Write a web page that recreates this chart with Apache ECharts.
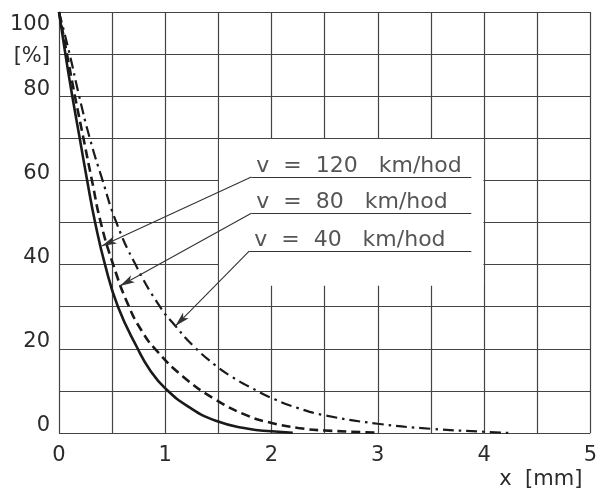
<!DOCTYPE html>
<html>
<head>
<meta charset="utf-8">
<script src="https://cdn.jsdelivr.net/npm/echarts@6/dist/echarts.min.js"></script>
<style>html,body{margin:0;padding:0;background:#fff}#c{width:600px;height:492px}</style>
</head>
<body>
<div id="c"></div>
<script>
// curve data [x mm, %]
var solidCurve = [[0,100],[0.06,90],[0.125,80],[0.195,70],[0.265,60],[0.34,50],[0.433,40],[0.555,30],[0.735,20.3],[0.86,14.8],[1.0,10.6],[1.22,6.2],[1.475,2.9],[1.78,1.0],[2.0,0.4],[2.2,0.05]];
var dashedCurve = [[0,100],[0.075,90],[0.15,80],[0.23,70],[0.31,60],[0.393,50],[0.51,40],[0.65,30.5],[0.78,24.2],[0.91,19.8],[1.163,13.5],[1.475,7.9],[1.785,4.0],[2.0,2.4],[2.25,1.2],[2.5,0.6],[3.0,0.1]];
var dashDotCurve = [[0,100],[0.1,90],[0.19,80],[0.29,70],[0.41,60],[0.54,50],[0.72,40],[0.95,30],[1.1,25.3],[1.26,20.8],[1.475,16.0],[1.63,13.3],[1.82,10.6],[2.03,8.0],[2.25,5.9],[2.5,4.2],[3.0,2.2],[3.5,1.0],[4.0,0.3],[4.27,0]];
// annotation labels
var labelTexts = ['v  =  120   km/hod', 'v  =  80   km/hod', 'v  =  40   km/hod'];
var labelStartX = [1.81, 1.81, 1.79];
var labelUnderlineY = [60.8, 52.2, 43.2];
var underlineEndX = 3.88;
var arrowTips = [[0.402, 44.4], [0.573, 34.9], [1.095, 25.4]];
// axis ticks
var xTicks = [0, 1, 2, 3, 4, 5];
var yTicks = [0, 20, 40, 60, 80];

var FONT = '"DejaVu Sans", sans-serif';
var INK = '#2b2b2b';
var GRID = '#444';

var chart = echarts.init(document.getElementById('c'), null, {renderer: 'canvas'});

var markLineData = [];
for (var i = 0; i < labelTexts.length; i++) {
  markLineData.push([
    {coord: [labelStartX[i], labelUnderlineY[i]], symbol: 'none'},
    {coord: [underlineEndX, labelUnderlineY[i]], symbol: 'none'}
  ]);
  markLineData.push([
    {coord: [labelStartX[i], labelUnderlineY[i]], symbol: 'none'},
    {coord: arrowTips[i], symbol: 'arrow', symbolSize: [6, 15]}
  ]);
}
var labelPoints = labelTexts.map(function (t, i) {
  return {value: [labelStartX[i], labelUnderlineY[i]], name: t};
});

var option = {
  animation: false,
  backgroundColor: '#fff',
  grid: {left: 59, right: 6, top: 12, bottom: 59, containLabel: false},
  xAxis: {
    type: 'value', min: 0, max: 5, interval: 0.5,
    name: 'x  [mm]', nameLocation: 'end', nameGap: -8,
    nameTextStyle: {fontFamily: FONT, fontSize: 21, color: INK, align: 'right', verticalAlign: 'top', padding: [36, 0, 0, 0]},
    axisLine: {show: false}, axisTick: {show: false},
    axisLabel: {
      margin: 12, fontFamily: FONT, fontSize: 21, color: INK,
      formatter: function (v) { return xTicks.indexOf(v) >= 0 ? String(v) : ''; }
    },
    splitLine: {show: true, lineStyle: {color: GRID, width: 1.2}}
  },
  yAxis: {
    type: 'value', min: 0, max: 100, interval: 10,
    name: '100\n[%]', nameLocation: 'end', nameGap: 3,
    nameTextStyle: {fontFamily: FONT, fontSize: 21, color: INK, align: 'right', verticalAlign: 'top', lineHeight: 32, padding: [0, 9, 0, 0]},
    axisLine: {show: false}, axisTick: {show: false},
    axisLabel: {
      margin: 9, fontFamily: FONT, fontSize: 21, color: INK, verticalAlign: 'bottom', lineHeight: 14,
      formatter: function (v) { return yTicks.indexOf(v) >= 0 ? String(v) : ''; }
    },
    splitLine: {show: true, lineStyle: {color: GRID, width: 1.2}}
  },
  series: [
    {
      type: 'line', name: 'blank', data: [], silent: true, z: 1,
      markArea: {
        silent: true,
        itemStyle: {color: '#fff', borderWidth: 0},
        data: [[{coord: [1.506, 35]}, {coord: [3.994, 69.85]}]]
      }
    },
    {
      type: 'line', name: 'solid', data: solidCurve, smooth: 0.5, symbol: 'none', z: 3,
      lineStyle: {color: '#1a1a1a', width: 2.6, type: 'solid'}
    },
    {
      type: 'line', name: 'dashed', data: dashedCurve, smooth: 0.5, symbol: 'none', z: 3,
      lineStyle: {color: '#1a1a1a', width: 2.6, type: [9, 5]}
    },
    {
      type: 'line', name: 'dashdot', data: dashDotCurve, smooth: 0.5, symbol: 'none', z: 3,
      lineStyle: {color: '#1a1a1a', width: 2.2, type: [11, 5, 2.5, 5]}
    },
    {
      type: 'scatter', name: 'labels', data: labelPoints, symbolSize: 0, z: 4, silent: true,
      label: {
        show: true, position: [5, 0], align: 'left', verticalAlign: 'bottom',
        fontFamily: FONT, fontSize: 22, color: INK,
        formatter: function (p) { return p.name; }
      },
      markLine: {
        silent: true, animation: false,
        label: {show: false},
        lineStyle: {color: '#333', width: 1.1, type: 'solid'},
        emphasis: {disabled: true},
        data: markLineData
      }
    }
  ]
};
chart.setOption(option);
</script>
</body>
</html>
